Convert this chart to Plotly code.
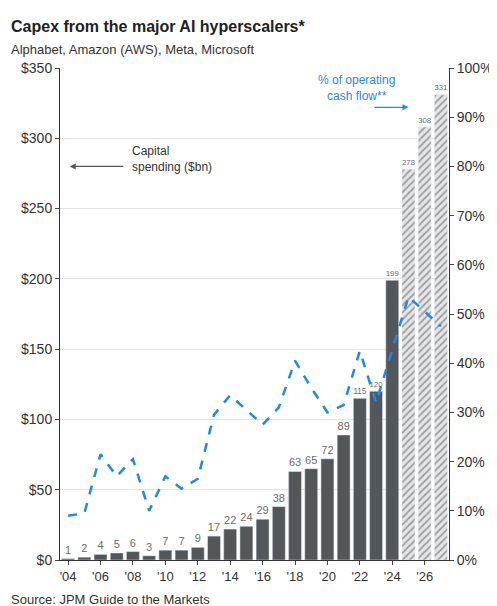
import plotly.graph_objects as go

years = list(range(2004, 2028))
capex = [1,2,4,5,6,3,7,7,9,17,22,24,29,38,63,65,72,89,115,120,199,278,308,331]
pct_ocf = [9,9.5,21.5,17,20.5,10,17,14.5,16.5,29.5,33.5,30.5,27.5,31,40.5,35,30,31.5,42.5,32,43,53.5,50.5,47.5]
tick_years = list(range(2004, 2028, 2))
tick_labels = ["'%02d" % (y % 100) for y in tick_years]

actual = [y <= 2024 for y in years]
fig = go.Figure()
fig.add_trace(go.Bar(x=[y for y, a in zip(years, actual) if a], y=[v for v, a in zip(capex, actual) if a],
    marker=dict(color="#545759"), width=0.8,
    text=[str(v) for v, a in zip(capex, actual) if a], textposition="outside",
    textfont=dict(color="#6b6b6b", size=11), cliponaxis=False))
fig.add_trace(go.Bar(x=[y for y, a in zip(years, actual) if not a], y=[v for v, a in zip(capex, actual) if not a],
    marker=dict(color="#d8d8d8", pattern=dict(shape="/", fgcolor="#545759", bgcolor="#e6e6e6", size=5, solidity=0.35)),
    width=0.8,
    text=[str(v) for v, a in zip(capex, actual) if not a], textposition="outside",
    textfont=dict(color="#6b6b6b", size=11), cliponaxis=False))
fig.add_trace(go.Scatter(x=years, y=pct_ocf, yaxis="y2", mode="lines",
    line=dict(color="#1e88f0", width=2.5, dash="dash")))

fig.update_layout(
    width=497, height=606, showlegend=False, plot_bgcolor="white", paper_bgcolor="white",
    margin=dict(l=52, r=52, t=60, b=54), barmode="overlay",
    font=dict(family="Liberation Sans, Arial", size=13, color="#333"),
    xaxis=dict(tickvals=tick_years, ticktext=tick_labels, range=[2003.5, 2027.5],
               showline=True, linecolor="#333", ticks="outside", ticklen=4, showgrid=False, tickfont=dict(size=13)),
    yaxis=dict(range=[0, 350], dtick=50, tickprefix="$", gridcolor="#e3e3e3",
               showline=True, linecolor="#333", ticks="outside", ticklen=4, tickfont=dict(size=14)),
    yaxis2=dict(range=[0, 100], dtick=10, ticksuffix="%", overlaying="y", side="right",
                showgrid=False, showline=True, linecolor="#333", ticks="outside", ticklen=4, tickfont=dict(size=14)),
    annotations=[
        dict(text="<b>Capex from the major AI hyperscalers*</b>", x=-0.13, y=1.105, xref="paper", yref="paper",
             xanchor="left", yanchor="top", showarrow=False, font=dict(size=16, color="#222")),
        dict(text="Alphabet, Amazon (AWS), Meta, Microsoft", x=-0.13, y=1.057, xref="paper", yref="paper",
             xanchor="left", yanchor="top", showarrow=False, font=dict(size=13, color="#333")),
        dict(text="Capital<br>spending ($bn)", x=2007.8, y=285, xref="x", yref="y", xanchor="left",
             align="left", showarrow=False, font=dict(size=12, color="#333")),
        dict(x=2004.1, y=280, ax=2007.5, ay=280, xref="x", yref="y", axref="x", ayref="y",
             showarrow=True, arrowhead=2, arrowsize=1, arrowwidth=1.2, arrowcolor="#555", text=""),
        dict(text="% of operating<br>cash flow**", x=2021.8, y=96, xref="x", yref="y2", xanchor="center",
             align="center", showarrow=False, font=dict(size=12, color="#1e88f0")),
        dict(x=2025.0, y=92, ax=2022.8, ay=92, xref="x", yref="y2", axref="x", ayref="y2",
             showarrow=True, arrowhead=2, arrowsize=1, arrowwidth=1.2, arrowcolor="#1e88f0", text=""),
        dict(text="Source: JPM Guide to the Markets", x=-0.13, y=-0.1, xref="paper", yref="paper",
             xanchor="left", yanchor="bottom", showarrow=False, font=dict(size=13, color="#333")),
    ],
)
fig.write_html("out.html")
